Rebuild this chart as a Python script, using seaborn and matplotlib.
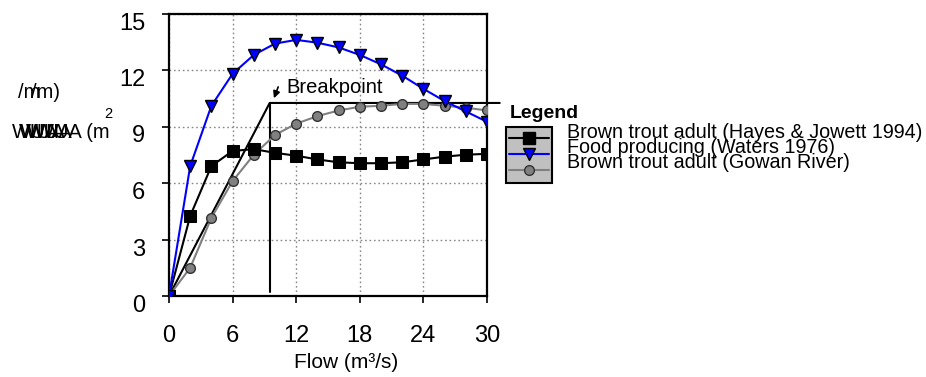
import numpy as np
import pandas as pd
import matplotlib
matplotlib.use("Agg")
import matplotlib.pyplot as plt
from matplotlib.lines import Line2D
from matplotlib.patches import Rectangle
from matplotlib.transforms import ScaledTranslation
import seaborn as sns

# ---- data ----
flow = [0, 2, 4, 6, 8, 10, 12, 14, 16, 18, 20, 22, 24, 26, 28, 30]
hayes = [0, 4.25, 6.9, 7.7, 7.8, 7.6, 7.45, 7.25, 7.1, 7.05, 7.05, 7.1, 7.25, 7.4, 7.5, 7.55]
waters = [0, 6.9, 10.1, 11.8, 12.8, 13.4, 13.6, 13.45, 13.2, 12.8, 12.3, 11.7, 11.0, 10.35, 9.8, 9.25]
gowan = [0, 1.5, 4.15, 6.1, 7.5, 8.55, 9.15, 9.55, 9.85, 10.05, 10.1, 10.2, 10.2, 10.1, 10.0, 9.85]
series_names = ["Brown trout adult (Hayes & Jowett 1994)",
                "Food producing (Waters 1976)",
                "Brown trout adult (Gowan River)"]
break_flow = 9.5
break_wua = 10.25
x_ticks = [0, 6, 12, 18, 24, 30]
y_ticks = [0, 3, 6, 9, 12, 15]

sns.set_theme(style="white")
plt.rcParams['font.family'] = ['Liberation Sans', 'DejaVu Sans']
plt.rcParams['text.color'] = 'black'
plt.rcParams['axes.labelcolor'] = 'black'
plt.rcParams['xtick.color'] = 'black'
plt.rcParams['ytick.color'] = 'black'

W, H = 926, 377
fig = plt.figure(figsize=(W / 100, H / 100), dpi=100)
def fx(px): return px / W
def fy(py): return 1 - py / H

ax = fig.add_axes([fx(169), fy(296), fx(487) - fx(169), fy(13.5) - fy(296)])

df = pd.DataFrame({"flow": flow, "hayes": hayes, "waters": waters, "gowan": gowan})

sns.lineplot(data=df, x="flow", y="gowan", ax=ax, color="#808080", lw=1.5,
             marker="o", markersize=7, markerfacecolor="#808080",
             markeredgecolor="#333333", markeredgewidth=1.0, zorder=3)
sns.lineplot(data=df, x="flow", y="hayes", ax=ax, color="black", lw=1.5,
             marker="s", markersize=8, markerfacecolor="black",
             markeredgecolor="black", zorder=4)
sns.lineplot(data=df, x="flow", y="waters", ax=ax, color="#0000ff", lw=1.5,
             marker="v", markersize=8.5, markerfacecolor="#0000ff",
             markeredgecolor="black", markeredgewidth=1.0, zorder=5)

# breakpoint lines
ax.plot([0, break_flow, 31.2], [0, break_wua, break_wua], color="black", lw=1.5,
        clip_on=False, zorder=2)
ax.plot([break_flow, break_flow], [break_wua, 0.2], color="black", lw=1.5, zorder=2)
ax.annotate("", xy=(9.9, 10.5), xytext=(10.3, 11.1),
            arrowprops=dict(arrowstyle="-|>", color="black", lw=1.2,
                            mutation_scale=10, shrinkA=0, shrinkB=0))
ax.text(11.1, 11.05, "Breakpoint", fontsize=14.5, ha="left", va="center")

ax.set_xlim(0, 30)
ax.set_ylim(0, 15)
ax.set_xticks(x_ticks)
ax.set_yticks(y_ticks)
ax.set_xlabel("")
ax.set_ylabel("")
ax.grid(True, linestyle=(0, (1.2, 2.0)), color="#888888", lw=1.0)
ax.tick_params(axis="both", direction="out", length=5, width=1.2, color="black",
               labelcolor="black", labelsize=17, bottom=True, left=True)
ax.tick_params(axis="x", pad=16)
ax.tick_params(axis="y", pad=12)
for s in ax.spines.values():
    s.set_color("black")
    s.set_linewidth(1.6)
for lab in ax.get_yticklabels():
    lab.set_transform(lab.get_transform() + ScaledTranslation(0, -0.075, fig.dpi_scale_trans))

# x label
ax.set_xlabel("Flow (m\u00b3/s)", fontsize=15, va="center", color="black")
ax.xaxis.set_label_coords((346 - 169) / 318, (296 - 363) / 282.5)

# garbled y label (as in reference)
for dx in [12, 19, 26]:
    fig.text(fx(dx), fy(132), "WUA", fontsize=14.5, ha="left", va="center")
fig.text(fx(35), fy(132), "WUA (m", fontsize=14.5, ha="left", va="center")
fig.text(fx(104), fy(114), "2", fontsize=10.5, ha="left", va="center")
fig.text(fx(18), fy(92), "/m", fontsize=14.5, ha="left", va="center")
fig.text(fx(31), fy(92), "/m)", fontsize=14.5, ha="left", va="center")

# manual legend
fig.text(fx(510), fy(113), "Legend", fontsize=14, fontweight="bold",
         ha="left", va="center")
fig.add_artist(Rectangle((fx(506), fy(183)), fx(552) - fx(506), fy(127) - fy(183),
                         transform=fig.transFigure, facecolor="#c0c0c0",
                         edgecolor="black", lw=1.5))
styles = [dict(color="black", marker="s", mfc="black", mec="black", ms=8),
          dict(color="#0000ff", marker="v", mfc="#0000ff", mec="black", ms=8.5),
          dict(color="#808080", marker="o", mfc="#808080", mec="#333333", ms=7)]
for i, (name, st) in enumerate(zip(series_names, styles)):
    yy = fy(138 + 16 * i)
    fig.add_artist(Line2D([fx(509), fx(549)], [yy, yy], transform=fig.transFigure,
                          color=st["color"], lw=1.5))
    fig.add_artist(Line2D([fx(529)], [yy], transform=fig.transFigure, ls="none",
                          marker=st["marker"], mfc=st["mfc"], mec=st["mec"], ms=st["ms"]))
    fig.text(fx(567), fy(132 + 15 * i), name, fontsize=14.2, ha="left", va="center")

fig.savefig("out.png", dpi=100)
